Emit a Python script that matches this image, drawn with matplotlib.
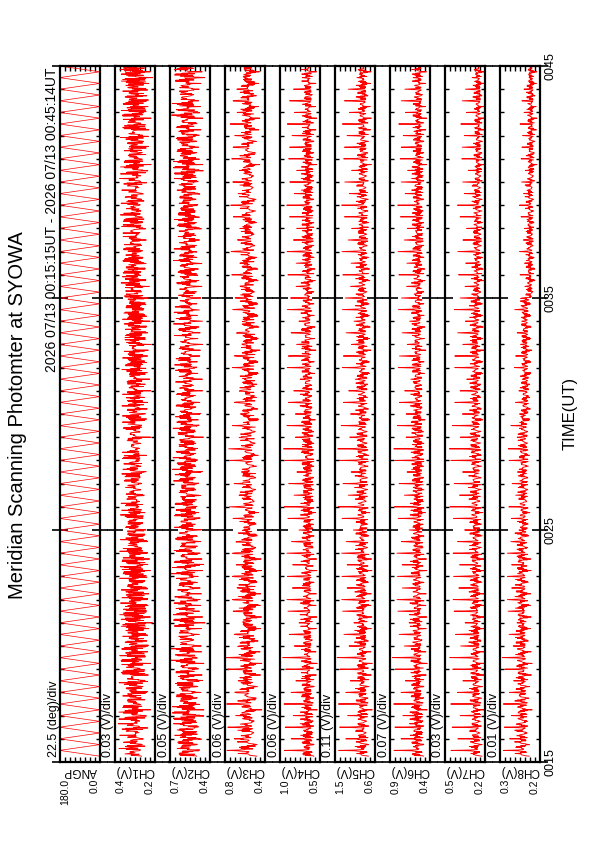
import numpy as np
import matplotlib
matplotlib.use("Agg")
import matplotlib.pyplot as plt
from matplotlib.ticker import MultipleLocator

plt.rcParams['font.family'] = ['Liberation Sans', 'DejaVu Sans']

W, H = 595, 842

# panel names, scale per division and limit labels (left = max, right = min)
NAMES = ['ANGP', 'CH1(V)', 'CH2(V)', 'CH3(V)', 'CH4(V)', 'CH5(V)', 'CH6(V)', 'CH7(V)', 'CH8(V)']
DIV_TEXT = ['22.5 (deg)/div', '0.03 (V)/div', '0.05 (V)/div', '0.06 (V)/div', '0.06 (V)/div',
            '0.11 (V)/div', '0.07 (V)/div', '0.03 (V)/div', '0.01 (V)/div']
TOP_LABELS = ['180.0', '0.4', '0.7', '0.8', '1.0', '1.5', '0.9', '0.5', '0.3']
BOT_LABELS = ['0.0', '0.2', '0.4', '0.4', '0.5', '0.6', '0.4', '0.2', '0.2']
VMAX = [180.0, 0.41, 0.72, 0.83, 1.00, 1.48, 0.92, 0.47, 0.30]
VMIN = [0.0, 0.17, 0.32, 0.35, 0.52, 0.60, 0.36, 0.23, 0.22]

# 1 s samples, 00:15:15 - 00:45:14
T_START = 15.25
N_SAMPLES = 1800

# one meridian scan: up 0 -> 180 then back down (deg), 30 s
SCAN_ANGLE = [0, 12, 24, 36, 48, 60, 72, 84, 96, 108, 120, 132, 144, 156, 168,
              180, 168, 156, 144, 132, 120, 108, 96, 84, 72, 60, 48, 36, 24, 12]

# relative brightness along the scan (index 0 = 0 deg ... 15 = 180 deg)
PROFILE = {
    'CH1(V)': [0.3, 0.6, 0.4, 0.8, 0.5, 0.7, 0.9, 0.6, 0.8, 0.5, 0.9, 0.6, 0.7, 0.4, 0.6, 0.3],
    'CH2(V)': [0.3, 0.5, 0.7, 0.5, 0.8, 0.6, 0.9, 0.7, 1.0, 0.6, 0.8, 0.7, 0.5, 0.6, 0.4, 0.3],
    'CH3(V)': [0.1, 0.3, 0.2, 0.4, 0.3, 0.5, 0.4, 0.6, 0.5, 0.4, 0.5, 0.3, 0.4, 0.5, 0.8, 1.0],
    'CH4(V)': [0.1, 0.2, 0.3, 0.25, 0.4, 0.3, 0.45, 0.35, 0.3, 0.4, 0.25, 0.3, 0.2, 0.3, 0.6, 1.0],
    'CH5(V)': [0.1, 0.25, 0.2, 0.35, 0.3, 0.45, 0.35, 0.4, 0.3, 0.35, 0.25, 0.3, 0.2, 0.35, 0.6, 1.0],
    'CH6(V)': [0.1, 0.2, 0.3, 0.25, 0.4, 0.35, 0.45, 0.3, 0.4, 0.3, 0.25, 0.3, 0.2, 0.3, 0.55, 1.0],
    'CH7(V)': [0.05, 0.2, 0.15, 0.3, 0.25, 0.4, 0.3, 0.35, 0.25, 0.3, 0.2, 0.25, 0.15, 0.25, 0.5, 1.0],
    'CH8(V)': [0.1, 0.3, 0.2, 0.4, 0.35, 0.5, 0.4, 0.55, 0.45, 0.4, 0.3, 0.35, 0.25, 0.35, 0.6, 1.0],
}

# level per 5 minute block (0015-0020, ..., 0040-0045)
BASE = {
    'CH1(V)': [0.19, 0.19, 0.20, 0.20, 0.20, 0.19],
    'CH2(V)': [0.35, 0.36, 0.37, 0.38, 0.38, 0.37],
    'CH3(V)': [0.40, 0.40, 0.41, 0.41, 0.42, 0.42],
    'CH4(V)': [0.55, 0.55, 0.55, 0.56, 0.56, 0.56],
    'CH5(V)': [0.66, 0.66, 0.67, 0.67, 0.68, 0.68],
    'CH6(V)': [0.40, 0.40, 0.40, 0.41, 0.41, 0.41],
    'CH7(V)': [0.236, 0.236, 0.238, 0.238, 0.238, 0.238],
    'CH8(V)': [0.235, 0.237, 0.238, 0.236, 0.229, 0.227],
}
AMP = {
    'CH1(V)': [0.17, 0.16, 0.15, 0.14, 0.15, 0.16],
    'CH2(V)': [0.30, 0.29, 0.27, 0.25, 0.25, 0.27],
    'CH3(V)': [0.38, 0.36, 0.33, 0.33, 0.32, 0.32],
    'CH4(V)': [0.38, 0.38, 0.37, 0.36, 0.34, 0.33],
    'CH5(V)': [0.70, 0.70, 0.68, 0.66, 0.62, 0.60],
    'CH6(V)': [0.44, 0.44, 0.42, 0.40, 0.38, 0.36],
    'CH7(V)': [0.19, 0.19, 0.19, 0.18, 0.15, 0.13],
    'CH8(V)': [0.055, 0.050, 0.040, 0.035, 0.030, 0.030],
}
NOISE = {
    'CH1(V)': [0.045, 0.045, 0.040, 0.040, 0.040, 0.045],
    'CH2(V)': [0.06, 0.06, 0.05, 0.05, 0.05, 0.06],
    'CH3(V)': [0.05, 0.05, 0.045, 0.04, 0.04, 0.04],
    'CH4(V)': [0.035, 0.035, 0.035, 0.035, 0.035, 0.035],
    'CH5(V)': [0.07, 0.07, 0.065, 0.06, 0.06, 0.06],
    'CH6(V)': [0.045, 0.045, 0.045, 0.04, 0.04, 0.04],
    'CH7(V)': [0.014, 0.014, 0.014, 0.013, 0.012, 0.012],
    'CH8(V)': [0.005, 0.005, 0.005, 0.004, 0.004, 0.004],
}
# sample to sample wobble (fraction of NOISE)
JITTER = [0.2, -0.7, 0.9, -0.3, 0.5, -1.0, 0.1, 0.8, -0.5, 0.3, -0.9, 0.6, -0.2, 1.0, -0.6, 0.4,
          -0.8, 0.0, 0.7, -0.4, 0.9, -0.1, -0.7, 0.5, -0.3, 0.8, -1.0, 0.2, 0.6, -0.5, 0.1, -0.9,
          0.4, -0.2, 0.7, -0.6, 0.3, 1.0, -0.4, 0.0, -0.8, 0.5, -0.1, 0.9, -0.7, 0.2, -0.3]
# scan to scan change of the peak height
SPIKE_SCALE = [1.0, 0.8, 0.95, 0.7, 1.0, 0.85, 0.6, 0.9, 1.0, 0.75, 0.9, 0.65, 0.95]


def px(x, y):
    return x / W, 1 - y / H


n = np.arange(N_SAMPLES)
times = T_START + n / 60.0
scan = np.array(SCAN_ANGLE, dtype=float)
angle = scan[n % len(scan)]
angle_idx = (angle / 12).astype(int)
scan_no = n // len(scan)
block = np.minimum(((times - 15) // 5).astype(int), 5)
jit = np.array(JITTER)[n % len(JITTER)]
peak = np.array(SPIKE_SCALE)[scan_no % len(SPIKE_SCALE)]

fig = plt.figure(figsize=(W / 100, H / 100), dpi=100)

top_y, bot_y = 66, 762
pw = 40.5
for i, name in enumerate(NAMES):
    left = 59.5 + 55 * i
    x0, y0 = px(left, bot_y)
    ax = fig.add_axes([x0, y0, pw / W, (bot_y - top_y) / H])

    if name == 'ANGP':
        vals = angle
        lw = 0.5
    else:
        prof = np.array(PROFILE[name])[angle_idx]
        prof = np.where(angle_idx >= 14, prof * peak, prof)
        vals = (np.array(BASE[name])[block] + np.array(AMP[name])[block] * prof
                + np.array(NOISE[name])[block] * jit)
        lw = 0.65
    ax.plot(vals, times, color='red', lw=lw)

    ax.set_xlim(VMAX[i], VMIN[i])
    ax.set_ylim(15, 45)
    div = (VMAX[i] - VMIN[i]) / 8
    ax.set_xticks([])
    ax.set_xticks([VMIN[i] + div * k for k in range(1, 8)], minor=True)
    ax.set_yticks([15, 25, 35, 45])
    ax.yaxis.set_minor_locator(MultipleLocator(1))
    ax.set_yticklabels([])
    ax.tick_params(axis='x', which='minor', direction='in', length=3.5, width=1.0,
                   top=True, bottom=True)
    ax.tick_params(axis='y', which='major', direction='inout', length=12, width=1.2,
                   left=True, right=True)
    ax.tick_params(axis='y', which='minor', direction='in', length=3, width=1.0,
                   left=True, right=True)
    for s in ax.spines.values():
        s.set_linewidth(1.6)

    # per panel texts
    tx, ty = px(left - 6, 757)
    fig.text(tx, ty, DIV_TEXT[i], rotation=90, ha='center', va='bottom', fontsize=9)
    tx, ty = px(left + pw / 2, 771)
    fig.text(tx, ty, name, rotation=180, ha='center', va='center', fontsize=8.5)
    tx, ty = px(left + 6, 779)
    fig.text(tx, ty, TOP_LABELS[i], rotation=90, ha='center', va='top', fontsize=7.5)
    tx, ty = px(left + pw - 5, 779)
    fig.text(tx, ty, BOT_LABELS[i], rotation=90, ha='center', va='top', fontsize=7.5)

# time labels
for lab, t in zip(['0015', '0025', '0035', '0045'], [15, 25, 35, 45]):
    y = bot_y - (t - 15) / 30 * (bot_y - top_y)
    tx, ty = px(550, y)
    fig.text(tx, ty, lab, rotation=90, ha='center', va='center', fontsize=9)
tx, ty = px(570, 413)
fig.text(tx, ty, 'TIME(UT)', rotation=90, ha='center', va='center', fontsize=12)

tx, ty = px(18, 415)
fig.text(tx, ty, 'Meridian Scanning Photomter at SYOWA', rotation=90, ha='center', va='center',
         fontsize=14.5)
tx, ty = px(52.5, 68)
fig.text(tx, ty, '2026 07/13 00:15:15UT - 2026 07/13 00:45:14UT', rotation=90,
         ha='center', va='top', fontsize=10)

fig.savefig('out.png', dpi=100)
